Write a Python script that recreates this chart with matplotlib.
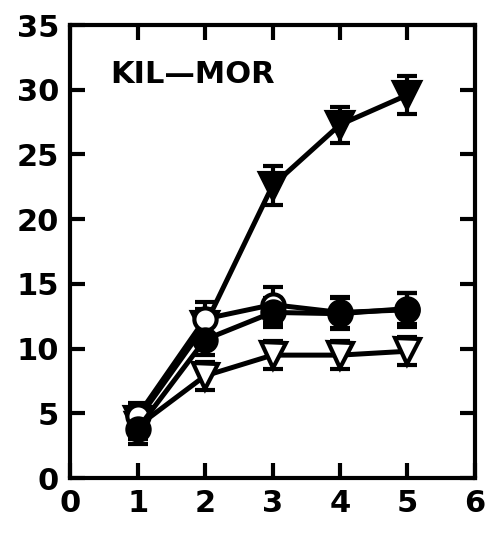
import matplotlib.pyplot as plt

# data
x = [1, 2, 3, 4, 5]

tri_fill = [4.5, 11.8, 22.6, 27.3, 29.6]
tri_fill_err = [1.2, 1.3, 1.5, 1.4, 1.5]

circ_open = [4.8, 12.3, 13.4, 12.8, 13.0]
circ_open_err = [1.0, 1.3, 1.4, 1.2, 1.3]

circ_fill = [3.8, 10.7, 12.8, 12.7, 13.1]
circ_fill_err = [1.2, 1.2, 1.1, 1.2, 1.2]

tri_open = [4.0, 7.9, 9.5, 9.5, 9.8]
tri_open_err = [1.0, 1.1, 1.1, 1.1, 1.1]

xticks = [0, 1, 2, 3, 4, 5, 6]
yticks = [0, 5, 10, 15, 20, 25, 30, 35]

fig = plt.figure(figsize=(4.91, 5.33), dpi=100)
ax = fig.add_axes([0.143, 0.103, 0.824, 0.850])

lw = 3.6
common = dict(color='black', lw=lw, capsize=7, capthick=3.5, elinewidth=3,
              markeredgewidth=3, markeredgecolor='black')

# volgorde zoals in het origineel: gevulde cirkels bovenop
ax.errorbar(x, tri_open, yerr=tri_open_err, marker='v', markersize=18,
            markerfacecolor='white', **common)
ax.errorbar(x, tri_fill, yerr=tri_fill_err, marker='v', markersize=19,
            markerfacecolor='black', **common)
ax.errorbar(x, circ_open, yerr=circ_open_err, marker='o', markersize=16,
            markerfacecolor='white', **common)
ax.errorbar(x, circ_fill, yerr=circ_fill_err, marker='o', markersize=16,
            markerfacecolor='black', **common)

ax.set_xlim(0, 6)
ax.set_ylim(0, 35)
ax.set_xticks(xticks)
ax.set_yticks(yticks)

for s in ax.spines.values():
    s.set_linewidth(3)

ax.tick_params(direction='in', length=11, width=3, top=True, right=True,
               labelsize=22, pad=8)
for lab in ax.get_xticklabels() + ax.get_yticklabels():
    lab.set_fontweight('bold')

ax.text(0.1, 0.89, 'KIL\u2014MOR', transform=ax.transAxes, fontsize=22,
        fontweight='bold', va='center')

fig.savefig('out.png', dpi=100)
